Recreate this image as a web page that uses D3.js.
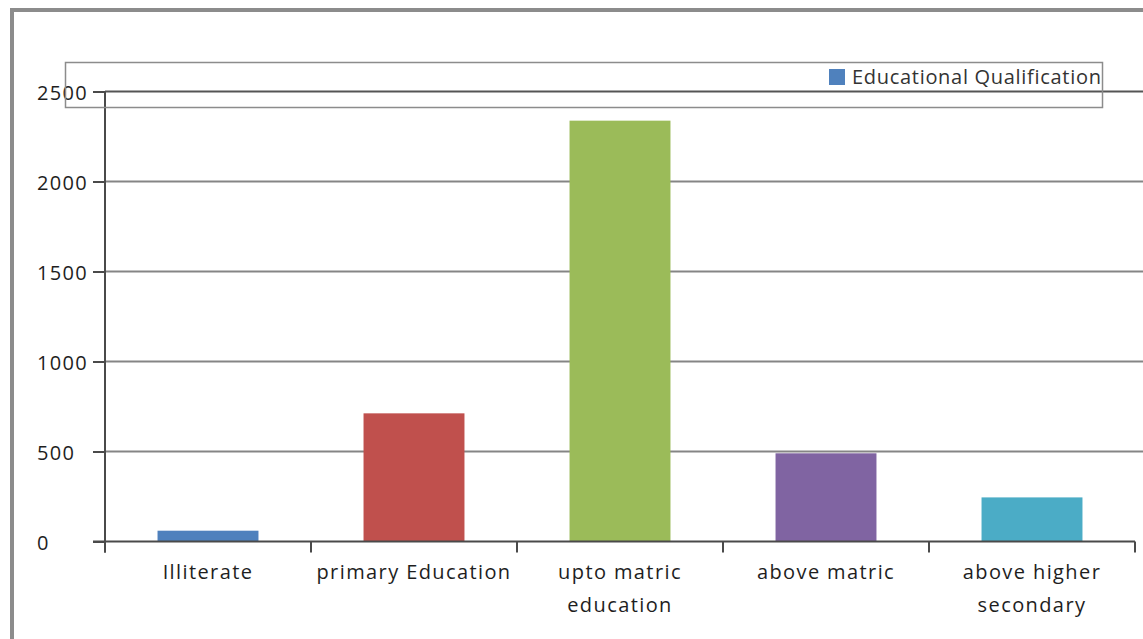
<!DOCTYPE html>
<html>
<head>
<meta charset="utf-8">
<script src="https://cdn.jsdelivr.net/npm/d3@7"></script>
<style>
  html, body { margin: 0; padding: 0; background: #fff; }
  svg { display: block; }
  text { font-family: "Open Sans", sans-serif; fill: #222; }
</style>
</head>
<body>
<svg id="chart" width="1143" height="639"></svg>
<script>
// ---- data ----
const categories = [
  ["Illiterate"],
  ["primary Education"],
  ["upto matric", "education"],
  ["above matric"],
  ["above higher", "secondary"]
];
const values = [60, 712, 2338, 490, 245];
const barColors = ["#4f81bd", "#c0504d", "#9bbb59", "#8064a2", "#4bacc6"];
const yTicks = [0, 500, 1000, 1500, 2000, 2500];
const seriesName = "Educational Qualification";

// ---- layout ----
const W = 1143, H = 639;
const plot = { left: 105, right: 1135, top: 91.5, bottom: 541.5 };
const svg = d3.select("#chart");

// outer frame
svg.append("path")
  .attr("d", `M12,${H + 5} L12,10 L${W + 5},10`)
  .attr("fill", "none").attr("stroke", "#8c8c8c").attr("stroke-width", 4);

const keys = categories.map(c => c.join(" "));
const x = d3.scaleBand().domain(keys).range([plot.left, plot.right])
  .paddingInner(0.51).paddingOuter(0.255);
const y = d3.scaleLinear().domain([0, 2500]).range([plot.bottom, plot.top]);

// gridlines
svg.append("g").selectAll("line").data(yTicks.filter(t => t > 0)).join("line")
  .attr("x1", plot.left).attr("x2", W)
  .attr("y1", d => y(d)).attr("y2", d => y(d))
  .attr("stroke", d => d === 2500 ? "#555" : "#858585")
  .attr("stroke-width", 2.2);

// bars
svg.append("g").selectAll("rect").data(values).join("rect")
  .attr("x", (d, i) => x(keys[i]))
  .attr("width", x.bandwidth())
  .attr("y", d => y(d))
  .attr("height", d => y(0) - y(d))
  .attr("fill", (d, i) => barColors[i]);

// y axis
const yAxis = svg.append("g").attr("transform", `translate(${plot.left},0)`)
  .call(d3.axisLeft(y).tickValues(yTicks).tickSize(12).tickPadding(0).tickFormat(d3.format("d")));
yAxis.select(".domain").attr("stroke", "#4a4a4a").attr("stroke-width", 2)
  .attr("d", `M0,${plot.top}V${plot.bottom + 11}`);
yAxis.selectAll(".tick line").attr("stroke", "#4a4a4a").attr("stroke-width", 2);
yAxis.selectAll(".tick text")
  .attr("x", 37 - plot.left).attr("text-anchor", "start")
  .attr("dy", "0.42em")
  .style("font-size", "20px").style("letter-spacing", "1.3px").style("fill", "#1e1e1e");

// x axis
const xAxis = svg.append("g").attr("transform", `translate(0,${plot.bottom})`)
  .call(d3.axisBottom(x).tickSize(0).tickFormat(""));
xAxis.select(".domain").attr("stroke", "#4a4a4a").attr("stroke-width", 2)
  .attr("d", `M${plot.left - 12},0H${plot.right}`);
const boundaries = d3.range(keys.length + 1).map(i => plot.left + i * x.step());
xAxis.append("g").selectAll("line").data(boundaries).join("line")
  .attr("x1", d => d).attr("x2", d => d).attr("y1", 0).attr("y2", 11)
  .attr("stroke", "#4a4a4a").attr("stroke-width", 2);

// category labels
const lab = svg.append("g").selectAll("text").data(categories).join("text")
  .attr("x", (d, i) => x(keys[i]) + x.bandwidth() / 2)
  .attr("y", 579)
  .attr("text-anchor", "middle")
  .style("font-size", "20px").style("letter-spacing", "1.4px").style("fill", "#1e1e1e");
lab.selectAll("tspan").data(d => d).join("tspan")
  .attr("x", function () { return d3.select(this.parentNode).attr("x"); })
  .attr("dy", (d, i) => i === 0 ? 0 : 33)
  .text(d => d);

// legend
const leg = svg.append("g");
leg.append("rect").attr("x", 65.5).attr("y", 62.5).attr("width", 1037).attr("height", 45)
  .attr("fill", "none").attr("stroke", "#8c8c8c").attr("stroke-width", 1.5);
leg.append("rect").attr("x", 829).attr("y", 69).attr("width", 16).attr("height", 16)
  .attr("fill", barColors[0]);
leg.append("text").attr("x", 852).attr("y", 84)
  .style("font-size", "20px").style("letter-spacing", "0.7px").style("fill", "#333")
  .text(seriesName);
</script>
</body>
</html>
